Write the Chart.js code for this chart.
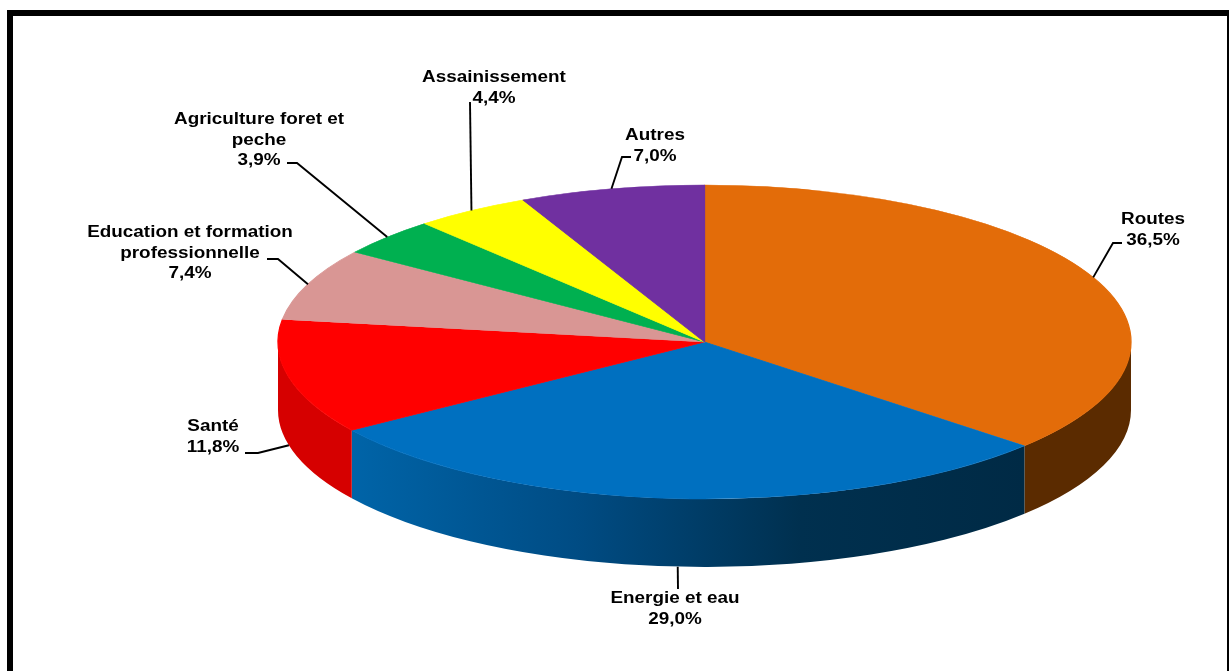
<!DOCTYPE html>
<html>
<head>
<meta charset="utf-8">
<script src="https://cdn.jsdelivr.net/npm/chart.js@4"></script>
<style>
  html, body { margin: 0; padding: 0; background: #fff; overflow: hidden; }
  #frame {
    position: absolute; left: 7px; top: 10px; width: 1214px; height: 700px;
    border-top: 6px solid #000; border-left: 6px solid #000; border-right: 2px solid #000;
  }
  #myChart { position: absolute; left: 0; top: 0; }
</style>
</head>
<body>
<div id="frame"></div>
<canvas id="myChart" width="1229" height="671"></canvas>
<script>
const labels = ['Routes', 'Energie et eau', 'Santé', 'Education et formation professionnelle',
  'Agriculture foret et peche', 'Assainissement', 'Autres'];
const shares = [36.5, 29.0, 11.8, 7.4, 3.9, 4.4, 7.0];
const labelLines = [['Routes'], ['Energie et eau'], ['Santé'], ['Education et formation', 'professionnelle'],
  ['Agriculture foret et', 'peche'], ['Assainissement'], ['Autres']];
const topColors = ['#E36C09', '#0070C0', '#FF0000', '#D99694', '#00B050', '#FFFF00', '#7030A0'];
// wall colours; an array means a left-to-right gradient
const sideColors = ['#5B2B00', ['#0064A8', '#004C84', '#00304F', '#002A45'], '#D60000',
  '#A87270', '#00803C', '#C0C000', '#4E2070'];

// where each label sits and how its leader line bends
const labelPlace = [
  { at: [1153, 220], elbow: [1113, 243], end: [1122, 243] },
  { at: [675, 599], elbow: [678, 589], end: null },
  { at: [213, 427], elbow: [258, 453], end: [245, 453] },
  { at: [190, 233], elbow: [278, 259], end: [267, 259] },
  { at: [259, 120], elbow: [297, 163], end: [287, 163] },
  { at: [494, 78], elbow: [470, 102], end: null },
  { at: [655, 136], elbow: [622, 157], end: [631, 157] }
];

const pie3d = {
  id: 'pie3d',
  beforeDatasetsDraw(chart, args, opts) {
    const ctx = chart.ctx;
    const arcs = chart.getDatasetMeta(0).data;
    const { cx, cy, rx, ry, depth } = opts;
    // front walls of the slices
    arcs.forEach((arc, i) => {
      const a0 = Math.max(arc.startAngle, 0);
      const a1 = Math.min(arc.endAngle, Math.PI);
      if (a1 <= a0) return;
      ctx.save();
      ctx.beginPath();
      ctx.ellipse(cx, cy, rx, ry, 0, a0, a1);
      ctx.ellipse(cx, cy + depth, rx, ry, 0, a1, a0, true);
      ctx.closePath();
      const side = sideColors[i];
      if (Array.isArray(side)) {
        const g = ctx.createLinearGradient(cx + rx * Math.cos(a1), 0, cx + rx * Math.cos(a0), 0);
        side.forEach((c, k) => g.addColorStop(k / (side.length - 1), c));
        ctx.fillStyle = g;
      } else {
        ctx.fillStyle = side;
      }
      ctx.fill();
      ctx.restore();
    });
    // squash the round pie into the tilted top face
    const ref = arcs[0];
    ctx.save();
    ctx.translate(cx, cy);
    ctx.scale(rx / ref.outerRadius, ry / ref.outerRadius);
    ctx.translate(-ref.x, -ref.y);
  },
  afterDatasetsDraw(chart, args, opts) {
    const ctx = chart.ctx;
    ctx.restore();
    const arcs = chart.getDatasetMeta(0).data;
    const { cx, cy, rx, ry, depth } = opts;
    ctx.save();
    ctx.strokeStyle = '#000';
    ctx.lineWidth = 1.9;
    ctx.fillStyle = '#000';
    ctx.font = 'bold 16px "Liberation Sans", Arial, sans-serif';
    ctx.textAlign = 'center';
    ctx.textBaseline = 'middle';
    arcs.forEach((arc, i) => {
      const mid = (arc.startAngle + arc.endAngle) / 2;
      const ax = cx + rx * Math.cos(mid);
      let ay = cy + ry * Math.sin(mid);
      if (Math.sin(mid) > 0) ay += depth;
      const p = labelPlace[i];
      ctx.beginPath();
      ctx.moveTo(ax, ay);
      ctx.lineTo(p.elbow[0], p.elbow[1]);
      if (p.end) ctx.lineTo(p.end[0], p.end[1]);
      ctx.stroke();
      const lines = labelLines[i].concat([shares[i].toFixed(1).replace('.', ',') + '%']);
      lines.forEach((t, k) => {
        ctx.save();
        ctx.translate(p.at[0], p.at[1] + k * 20.3);
        ctx.scale(1.18, 1);
        ctx.fillText(t, 0, 0);
        ctx.restore();
      });
    });
    ctx.restore();
  }
};

const ctx = document.getElementById('myChart').getContext('2d');
const myChart = new Chart(ctx, {
  type: 'pie',
  data: {
    labels: labels,
    datasets: [{
      data: shares,
      backgroundColor: topColors,
      borderColor: topColors,
      borderWidth: 1,
      clip: false
    }]
  },
  options: {
    responsive: false,
    animation: false,
    events: [],
    plugins: {
      legend: { display: false },
      tooltip: { enabled: false },
      pie3d: { cx: 704.5, cy: 342, rx: 426.5, ry: 157, depth: 68 }
    }
  },
  plugins: [pie3d]
});
</script>
</body>
</html>
